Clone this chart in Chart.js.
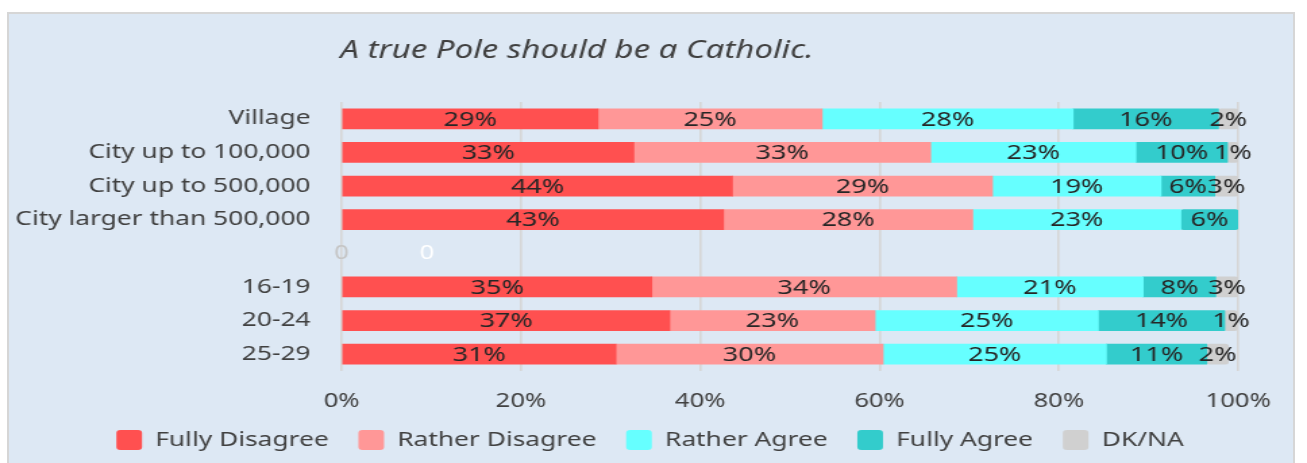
<!DOCTYPE html>
<html>
<head>
<meta charset="utf-8">
<script src="https://cdn.jsdelivr.net/npm/chart.js@4"></script>
<style>
  body { margin: 0; background: #fff; overflow: hidden; }
  #panel { position: absolute; left: 7px; top: 12px; width: 1284px; height: 460px; background: #dde8f4; border: 2px solid #d6d6d6; border-bottom: none; }
  #pollChart { position: absolute; left: 0; top: 0; transform: scaleX(1.3502); transform-origin: 0 0; }
</style>
</head>
<body>
<div id="panel"></div>
<canvas id="pollChart" width="968" height="463"></canvas>
<script>
const titleText = "A true Pole should be a Catholic.";
const categories = ["Village", "City up to 100,000", "City up to 500,000", "City larger than 500,000", "", "16-19", "20-24", "25-29"];
const seriesNames = ["Fully Disagree", "Rather Disagree", "Rather Agree", "Fully Agree", "DK/NA"];
const fullyDisagree = [28.6, 32.6, 43.6, 42.6, null, 34.6, 36.6, 30.6];
const ratherDisagree = [25.0, 33.1, 29.0, 27.8, null, 34.0, 22.9, 29.8];
const ratherAgree = [28.0, 22.9, 18.8, 23.2, null, 20.8, 24.9, 24.9];
const fullyAgree = [16.2, 10.2, 6.0, 6.4, null, 8.1, 14.1, 11.2];
const dkNa = [2.2, 1.2, 2.6, 0, null, 2.5, 1.4, 2.4];
const xTicks = [0, 20, 40, 60, 80, 100];
// stray "0" labels in the empty separator row of the original
const gapRow = 4;
const gapMarks = [{ value: 0, text: "0", color: "#c4c4c4" }, { value: 9.5, text: "0", color: "#ffffff" }];

const colors = ["#ff5050", "#ff9797", "#66ffff", "#33cccc", "#d0d0d0"];
const allSeries = [fullyDisagree, ratherDisagree, ratherAgree, fullyAgree, dkNa];
const textColor = "#404040";
const fontFamily = '"Noto Sans", sans-serif';

// title above the plot + value labels inside the bars
const extras = {
  id: "extras",
  afterDatasetsDraw(chart) {
    const ctx = chart.ctx;
    ctx.save();
    ctx.font = "20px " + fontFamily;
    ctx.fillStyle = "#262626";
    ctx.textAlign = "center";
    ctx.textBaseline = "middle";
    chart.data.datasets.forEach((ds, i) => {
      chart.getDatasetMeta(i).data.forEach((bar, j) => {
        const v = ds.data[j];
        if (!v) return;
        ctx.fillText(Math.round(v) + "%", (bar.x + bar.base) / 2, bar.y + 1);
      });
    });
    const xs = chart.scales.x, ys = chart.scales.y;
    ctx.font = "19px " + fontFamily;
    gapMarks.forEach(m => {
      ctx.fillStyle = m.color;
      ctx.fillText(m.text, xs.getPixelForValue(m.value), ys.getPixelForValue(gapRow));
    });
    ctx.font = "italic 24.5px " + fontFamily;
    ctx.fillStyle = textColor;
    ctx.textAlign = "left";
    ctx.fillText(titleText, chart.chartArea.left - 1, 51);
    ctx.restore();
  }
};

let pollChart = new Chart(document.getElementById("pollChart").getContext("2d"), {
  type: "bar",
  data: {
    labels: categories,
    datasets: allSeries.map((d, i) => ({
      label: seriesNames[i],
      data: d,
      backgroundColor: colors[i],
      borderWidth: 0,
      borderRadius: 2.5,
      borderSkipped: false,
      barThickness: 20,
    })),
  },
  options: {
    indexAxis: "y",
    responsive: false,
    animation: false,
    devicePixelRatio: 1,
    layout: { padding: { top: 102, right: 0, bottom: 3, left: 0 } },
    plugins: {
      legend: {
        position: "bottom",
        labels: {
          boxWidth: 19,
          boxHeight: 20,
          useBorderRadius: true,
          borderRadius: 3,
          padding: 17,
          color: textColor,
          font: { family: fontFamily, size: 19.5 },
          generateLabels: (chart) =>
            Chart.defaults.plugins.legend.labels.generateLabels(chart).map(l => ({ ...l, text: l.text + "\u00a0" })),
        },
      },
      tooltip: { enabled: false },
    },
    scales: {
      x: {
        stacked: true,
        min: 0,
        max: 100,
        afterBuildTicks: (s) => { s.ticks = xTicks.map(v => ({ value: v })); },
        afterFit: (s) => { s.height = 42; },
        grid: { color: "#d6d6d6", lineWidth: 1.6, drawTicks: false },
        border: { display: false },
        ticks: {
          padding: 19,
          color: textColor,
          font: { family: fontFamily, size: 19 },
          callback: (v) => v + "%",
        },
      },
      y: {
        stacked: true,
        afterFit: (s) => { s.width = 253; },
        grid: { display: false, drawTicks: false },
        border: { display: false },
        ticks: {
          padding: 23,
          color: textColor,
          font: { family: fontFamily, size: 19.5 },
        },
      },
      // empty right-hand axis just to keep the plot's right margin
      yRight: {
        axis: "y",
        position: "right",
        afterFit: (s) => { s.width = 51; },
        grid: { display: false, drawTicks: false },
        border: { display: false },
        ticks: { display: false },
      },
    },
  },
  plugins: [extras],
});
</script>
</body>
</html>
